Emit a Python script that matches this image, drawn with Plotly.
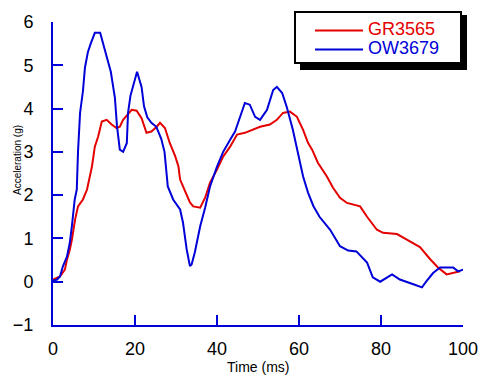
import plotly.graph_objects as go

# ---- data ----
gr_t = [0, 1.7, 2.9, 3.4, 4.1, 4.6, 5.4, 6.1, 7.3, 8.3, 9.5, 10.2, 11, 11.9, 13.1, 14.3,
        15.5, 16.3, 17.1, 18, 19.2, 20.4, 21.6, 22.8, 24, 25.3, 26.1, 27.3, 28.5, 29.8,
        30.6, 31, 31.7, 32.6, 33.4, 34.2, 35.9, 37.1, 38.3, 40, 41.5, 43.2, 44.9, 46.8,
        48.5, 50.5, 52.9, 54.6, 56.1, 57.8, 59.5, 61, 62.2, 63.2, 64.6, 66.8, 68.3, 70,
        71.7, 74.9, 76.6, 79, 80.5, 83.9, 86.3, 89.5, 92, 93.9, 96, 97.6, 99.3]
gr_a = [0.05, 0.12, 0.28, 0.51, 0.74, 0.97, 1.44, 1.74, 1.9, 2.13, 2.66, 3.12, 3.35, 3.7,
        3.74, 3.63, 3.55, 3.58, 3.74, 3.85, 3.97, 3.95, 3.78, 3.44, 3.47, 3.58, 3.67, 3.55,
        3.2, 2.9, 2.66, 2.36, 2.2, 1.97, 1.83, 1.74, 1.71, 1.94, 2.29, 2.59, 2.89, 3.12,
        3.4, 3.44, 3.51, 3.58, 3.63, 3.74, 3.9, 3.93, 3.81, 3.51, 3.21, 3.05, 2.75, 2.43,
        2.17, 1.94, 1.82, 1.74, 1.5, 1.2, 1.13, 1.1, 0.97, 0.8, 0.52, 0.33, 0.17, 0.2, 0.24]

ow_t = [0, 1, 1.7, 2.4, 3.4, 4.1, 4.6, 4.9, 5.3, 5.8, 6.1, 6.6, 7.3, 7.8, 8.5, 9.2, 10.2,
        11.5, 12.2, 13.2, 14.1, 15.1, 15.6, 16.3, 17.1, 18.0, 18.3, 18.9, 19.8, 20.5, 21.6,
        22.2, 23.0, 24.0, 25.2, 26.4, 27.2, 28.0, 29.3, 31.0, 31.7, 32.6, 33.4, 33.8, 34.6,
        35.9, 37.1, 38.3, 40, 41.5, 43.2, 44.4, 45.6, 46.8, 48, 49.3, 50.5, 52.2, 53.7,
        54.6, 55.9, 57, 58.5, 59.8, 61, 62.2, 63.5, 65, 67.6, 70, 72, 74, 76.6, 78, 79.8,
        82.7, 84.6, 87.9, 90, 91, 92.7, 94.4, 97.6, 98.8, 100]
ow_a = [0.02, 0.05, 0.12, 0.35, 0.58, 0.9, 1.28, 1.6, 1.9, 2.13, 3.0, 3.9, 4.4, 4.95, 5.3,
        5.5, 5.75, 5.75, 5.5, 5.15, 4.85, 4.25, 3.6, 3.05, 3.0, 3.2, 3.9, 4.3, 4.65, 4.85,
        4.5, 4.05, 3.8, 3.67, 3.58, 3.3, 3.0, 2.2, 1.9, 1.67, 1.37, 0.75, 0.36, 0.4, 0.68,
        1.28, 1.71, 2.2, 2.66, 3.0, 3.28, 3.47, 3.8, 4.13, 4.09, 3.81, 3.74, 3.97, 4.43,
        4.5, 4.36, 4.04, 3.51, 2.98, 2.43, 2.06, 1.75, 1.5, 1.2, 0.82, 0.72, 0.7, 0.44, 0.1,
        0.0, 0.17, 0.05, -0.06, -0.13, 0.0, 0.2, 0.33, 0.33, 0.24, 0.28]

x_ticks = [0, 20, 40, 60, 80, 100]
y_ticks = [-1, 0, 1, 2, 3, 4, 5, 6]

RED = "#e40000"
BLUE = "#0000d8"
FONT = "Liberation Sans, Arial, sans-serif"

# plot-area geometry in pixels (used only for paper-coordinate helpers)
L, R, T, B = 53, 463, 22, 325
W, H = R - L, B - T


def px(x):
    return (x - L) / W


def py(y):
    return (B - y) / H


fig = go.Figure()
fig.add_trace(go.Scatter(x=gr_t, y=gr_a, mode="lines",
                         name='<span style="font-size:18px;color:%s">GR3565</span>' % RED,
                         line=dict(color=RED, width=2)))
fig.add_trace(go.Scatter(x=ow_t, y=ow_a, mode="lines",
                         name='<span style="font-size:18px;color:%s">OW3679</span>' % BLUE,
                         line=dict(color=BLUE, width=2)))

axis_common = dict(showgrid=False, zeroline=False, showline=True, linecolor=BLUE,
                   linewidth=2, ticks="inside", ticklen=10, tickwidth=2, tickcolor=BLUE,
                   automargin=False,
                   tickfont=dict(family=FONT, size=18, color="black"))

fig.update_xaxes(range=[0, 100], tickvals=x_ticks, ticklabelstandoff=6, **axis_common)
fig.update_yaxes(range=[-1, 6], tickvals=y_ticks, ticklabelstandoff=14, **axis_common)

# legend box with drop shadow (paper coords)
fig.add_shape(type="rect", xref="paper", yref="paper",
              x0=px(300), x1=px(467), y0=py(70), y1=py(15),
              fillcolor="black", line=dict(width=0), layer="above")
fig.add_shape(type="rect", xref="paper", yref="paper",
              x0=px(295), x1=px(461), y0=py(63), y1=py(12),
              fillcolor="white", line=dict(width=2, color="black"), layer="above")

fig.add_annotation(text="Acceleration (g)", xref="paper", yref="paper",
                   x=px(17), y=py(160), textangle=-90, xanchor="center", yanchor="middle",
                   showarrow=False, font=dict(family=FONT, size=10, color="black"))
fig.add_annotation(text="Time (ms)", xref="paper", yref="paper",
                   x=px(258), y=py(367), xanchor="center", yanchor="middle",
                   showarrow=False, font=dict(family=FONT, size=14, color="black"))

fig.update_layout(
    width=481, height=378,
    margin=dict(l=L, r=481 - R, t=T, b=378 - B, autoexpand=False),
    paper_bgcolor="white", plot_bgcolor="white",
    font=dict(family=FONT),
    legend=dict(x=px(310), y=py(16), xanchor="left", yanchor="top",
                bgcolor="rgba(0,0,0,0)", borderwidth=0,
                font=dict(family=FONT, size=12.3), itemwidth=48, tracegroupgap=0),
)

fig.write_html("out.html")
